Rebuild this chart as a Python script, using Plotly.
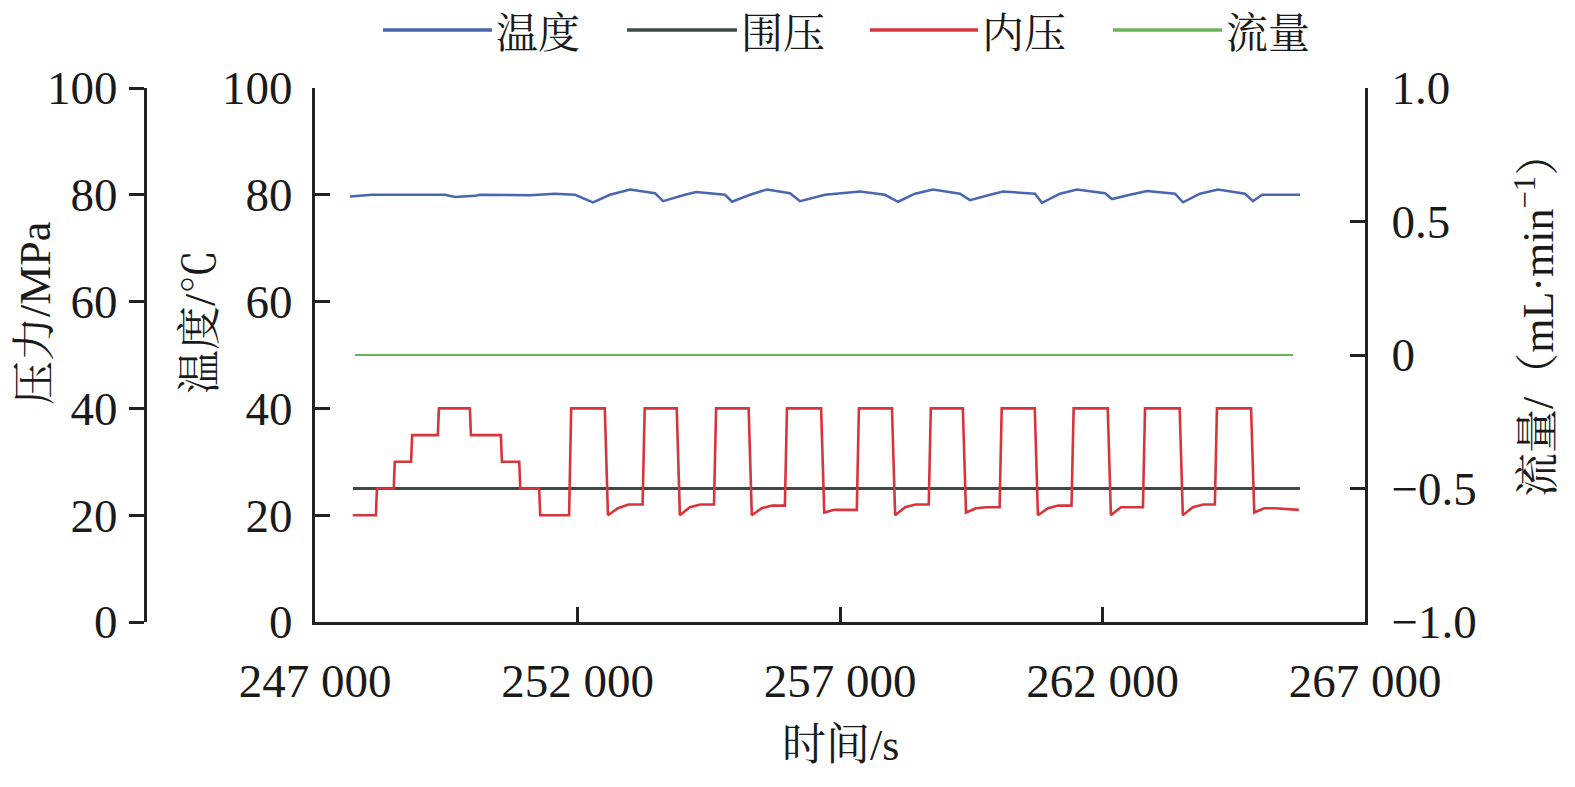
import plotly.graph_objects as go

# ---------------- data ----------------
temp_t = [247667, 248086, 249476, 249667, 250048, 250143, 251095, 251571, 251952, 252295,
          252619, 253000, 253476, 253629, 254048, 254257, 254810, 254943, 255286, 255610,
          256048, 256238, 256714, 257381, 257857, 258105, 258429, 258771, 259286, 259476,
          259857, 260105, 260714, 260848, 261190, 261514, 262048, 262181, 262524, 262848,
          263381, 263533, 263857, 264200, 264714, 264867, 265038, 265762]
temp_v = [79.7, 80.0, 80.0, 79.6, 79.8, 80.0, 79.9, 80.2, 80.0, 78.6,
          80.0, 81.0, 80.3, 78.8, 80.0, 80.5, 80.0, 78.7, 80.0, 81.0,
          80.3, 78.8, 80.0, 80.6, 80.0, 78.7, 80.2, 81.0, 80.2, 79.0,
          80.0, 80.6, 80.2, 78.5, 80.2, 81.0, 80.3, 79.2, 80.0, 80.7,
          80.2, 78.6, 80.2, 81.0, 80.2, 78.8, 80.0, 80.0]

conf_t = [247724, 265760]
conf_v = [25, 25]

inner_t = [247720, 248160, 248180, 248500, 248520, 248830, 248850, 249340, 249360, 249950,
           249970, 250540, 250560, 250890, 250910, 251270, 251290, 251840, 251880,
           252520, 252580, 252770, 252970, 253240, 253280,
           253890, 253950, 254140, 254340, 254600, 254640,
           255260, 255320, 255510, 255710, 255950, 255990,
           256640, 256700, 256890, 257090, 257320, 257360,
           257990, 258050, 258240, 258440, 258690, 258730,
           259340, 259400, 259590, 259790, 260040, 260080,
           260710, 260770, 260960, 261160, 261410, 261450,
           262100, 262160, 262350, 262550, 262770, 262810,
           263470, 263530, 263720, 263920, 264140, 264180,
           264830, 264890, 265080, 265280, 265740]
inner_v = [20, 20, 25, 25, 30, 30, 35, 35, 40, 40,
           35, 35, 30, 30, 25, 25, 20, 20, 40,
           40, 20, 21.3, 22, 22, 40,
           40, 20, 21.5, 22, 22, 40,
           40, 20, 21.3, 21.8, 21.8, 40,
           40, 20.5, 21, 21, 21, 40,
           40, 20, 21.5, 22, 22, 40,
           40, 20.5, 21.3, 21.5, 21.5, 40,
           40, 20, 21.3, 21.8, 21.8, 40,
           40, 20, 21.5, 21.5, 21.5, 40,
           40, 20, 21.5, 22, 22, 40,
           40, 20.5, 21.3, 21.3, 21.0]

flow_t = [247762, 265629]
flow_v = [0, 0]

x_ticks = [247000, 252000, 257000, 262000, 267000]
x_ticktext = ["247 000", "252 000", "257 000", "262 000", "267 000"]
y_ticks = [0, 20, 40, 60, 80, 100]
flow_ticks = [-1.0, -0.5, 0, 0.5, 1.0]
flow_ticktext = ["\u22121.0", "\u22120.5", "0", "0.5", "1.0"]

legend_names = ["温度", "围压", "内压", "流量"]
colors = ["#4a66b3", "#3f4a48", "#d8343c", "#6db35a"]

# ---------------- layout geometry ----------------
FONT = "Liberation Serif, Noto Serif CJK SC, Noto Sans CJK SC, serif"
TXT = "#1a1a1a"
OFF = 8                      # default page body margin
W, H = 1575 - 2 * OFF, 787 - 2 * OFF
PLOT_L, PLOT_R, PLOT_T, PLOT_B = 315, 1365, 88, 622   # target page pixels
L = 145 - OFF
T = PLOT_T - OFF
R = W - (PLOT_R - OFF)
B = H - (PLOT_B - OFF)
PW, PH = W - L - R, H - T - B


def px(xp):
    return (xp - OFF - L) / PW


def py(yp):
    return (H - B - (yp - OFF)) / PH


fig = go.Figure()
fig.add_trace(go.Scatter(x=temp_t, y=temp_v, mode="lines", name=legend_names[0],
                         line=dict(color=colors[0], width=2.5), yaxis="y"))
fig.add_trace(go.Scatter(x=flow_t, y=flow_v, mode="lines", name=legend_names[3],
                         line=dict(color=colors[3], width=2.2), yaxis="y2"))
fig.add_trace(go.Scatter(x=conf_t, y=conf_v, mode="lines", name=legend_names[1],
                         line=dict(color=colors[1], width=3.2), yaxis="y3"))
fig.add_trace(go.Scatter(x=inner_t, y=inner_v, mode="lines", name=legend_names[2],
                         line=dict(color=colors[2], width=2.6), yaxis="y3"))

axis_common = dict(showgrid=False, zeroline=False, showline=True, linecolor="#222",
                   linewidth=3, ticklen=15, tickwidth=3, tickcolor="#222",
                   tickfont=dict(family=FONT, size=47, color=TXT))

fig.update_layout(
    width=W, height=H,
    margin=dict(l=L, r=R, t=T, b=B, autoexpand=False),
    plot_bgcolor="white", paper_bgcolor="white",
    showlegend=False,
    xaxis=dict(domain=[px(PLOT_L), 1], range=[247000, 267000], tickvals=x_ticks,
               ticktext=x_ticktext, ticks="inside", ticklabelstandoff=16, **axis_common),
    yaxis=dict(range=[0, 100], tickvals=y_ticks, anchor="x", side="left", ticks="inside",
               ticklabelstandoff=10, **axis_common),
    yaxis2=dict(range=[-1, 1], tickvals=flow_ticks, ticktext=flow_ticktext, overlaying="y",
                side="right", anchor="x", ticks="inside", ticklabelstandoff=14,
                **axis_common),
    yaxis3=dict(range=[0, 100], tickvals=y_ticks, overlaying="y", side="left",
                anchor="free", position=0, ticks="outside", ticklabelstandoff=2,
                **axis_common),
)

# axis titles
title_font = dict(family=FONT, size=44, color=TXT)
fig.add_annotation(text="压力/MPa", xref="paper", yref="paper", x=px(35), y=py(314),
                   textangle=-90, showarrow=False, font=title_font,
                   xanchor="center", yanchor="middle")
fig.add_annotation(text="温度/℃", xref="paper", yref="paper", x=px(200), y=py(322),
                   textangle=-90, showarrow=False, font=title_font,
                   xanchor="center", yanchor="middle")
fig.add_annotation(text="流量/（mL·min<sup>−1</sup>）", xref="paper", yref="paper",
                   x=px(1535), y=py(315), textangle=-90, showarrow=False, font=title_font,
                   xanchor="center", yanchor="middle")
fig.add_annotation(text="时间/s", xref="paper", yref="paper", x=px(840), y=py(745),
                   showarrow=False, font=title_font, xanchor="center", yanchor="middle")

# custom legend (long line samples like the reference)
leg_pos = [(383, 492), (627, 737), (870, 978), (1113, 1222)]
for (x0, x1), name, c in zip(leg_pos, legend_names, colors):
    fig.add_shape(type="line", xref="paper", yref="paper", x0=px(x0), x1=px(x1),
                  y0=py(30), y1=py(30), line=dict(color=c, width=3.5))
    fig.add_annotation(text=name, xref="paper", yref="paper", x=px(x1 + 2), y=py(34),
                       showarrow=False, font=dict(family=FONT, size=42, color=TXT),
                       xanchor="left", yanchor="middle")

fig.write_html("out.html")
